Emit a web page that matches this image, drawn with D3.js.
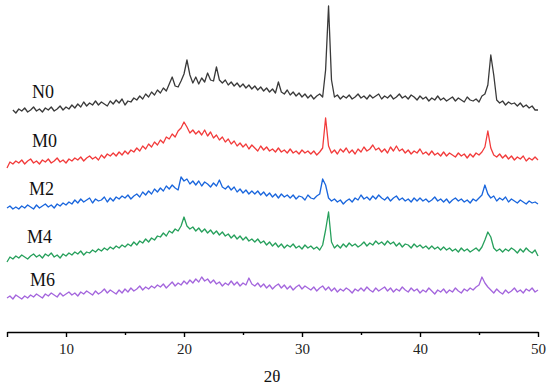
<!DOCTYPE html>
<html>
<head>
<meta charset="utf-8">
<script src="https://cdn.jsdelivr.net/npm/d3@7"></script>
<style>
  body { margin: 0; background: #fff; }
  svg text { font-family: "Liberation Serif", "Times New Roman", serif; }
</style>
</head>
<body>
<div id="chart"></div>
<script>
// sample names, top to bottom
const names = ['N0', 'M0', 'M2', 'M4', 'M6']
const colors = ['#3a3a3a', '#f23b3b', '#1a66dd', '#27a05c', '#a466dd']
// vertical stacking offset of each pattern (a.u.)
const offsets = [200, 150, 105, 55, 15]
// first 2θ of each scan, step 0.25°
const starts = [5.5, 5, 5, 5, 5]
const step = 0.25

// intensities (a.u.)
const n0 = [
  20, 17, 21, 19, 22, 18, 20, 23, 19, 21, 18, 22, 20, 23, 19, 21, 24, 20, 23, 21,
  25, 22, 26, 23, 28, 24, 27, 25, 29, 25, 28, 26, 24, 29, 26, 30, 27, 31, 25, 29,
  28, 32, 30, 34, 31, 36, 33, 38, 35, 40, 37, 42, 39, 46, 53, 44, 43, 49, 56, 70,
  55, 47, 53, 46, 52, 48, 57, 50, 49, 63, 50, 47, 50, 45, 48, 44, 47, 43, 46, 42,
  45, 41, 44, 40, 43, 39, 42, 38, 41, 37, 48, 38, 36, 40, 35, 38, 34, 37, 33, 36,
  32, 35, 31, 34, 36, 33, 60, 124, 50, 33, 35, 31, 34, 32, 35, 31, 33, 36, 32, 34,
  31, 35, 32, 34, 36, 31, 34, 32, 35, 31, 33, 36, 32, 34, 31, 35, 33, 30, 34, 31,
  33, 29, 32, 30, 34, 30, 32, 29, 31, 33, 29, 32, 30, 28, 33, 30, 29, 31, 28, 34,
  36, 45, 75, 55, 30, 27, 29, 25, 28, 26, 27, 24, 27, 23, 25, 22, 24, 20, 20
]
const m0 = [
  12, 18, 16, 19, 17, 20, 16, 19, 21, 17, 19, 16, 20, 18, 21, 17, 19, 22, 18, 20,
  17, 21, 19, 22, 20, 23, 19, 22, 24, 21, 23, 20, 25, 22, 26, 24, 27, 24, 28, 25,
  29, 26, 30, 28, 32, 29, 34, 31, 36, 33, 38, 35, 40, 37, 43, 41, 46, 43, 49, 52,
  58, 53, 47, 50, 46, 49, 45, 50, 44, 48, 42, 45, 40, 43, 38, 41, 36, 39, 34, 37,
  33, 36, 31, 35, 32, 29, 34, 30, 33, 29, 31, 28, 32, 28, 30, 27, 31, 27, 29, 26,
  30, 27, 29, 26, 29, 25, 28, 32, 62, 34, 27, 30, 26, 31, 28, 32, 27, 30, 26, 31,
  28, 33, 29, 31, 35, 30, 32, 28, 31, 27, 33, 29, 34, 29, 31, 27, 30, 26, 29, 27,
  31, 26, 28, 25, 29, 25, 27, 24, 28, 24, 27, 25, 23, 27, 24, 26, 22, 26, 23, 27,
  25, 28, 33, 49, 32, 25, 23, 26, 22, 25, 21, 24, 20, 23, 21, 24, 19, 22, 20, 23,
  20
]
const m2 = [
  17, 19, 16, 18, 16, 19, 17, 20, 18, 16, 20, 17, 19, 21, 18, 20, 17, 21, 19, 22,
  20, 23, 21, 25, 22, 26, 23, 25, 27, 22, 26, 24, 25, 28, 23, 27, 24, 28, 26, 29,
  27, 30, 26, 29, 31, 28, 33, 30, 34, 31, 36, 33, 37, 34, 39, 36, 40, 37, 35, 48,
  44, 46, 41, 44, 40, 44, 39, 43, 41, 38, 42, 39, 45, 38, 36, 39, 35, 38, 33, 36,
  32, 35, 31, 34, 31, 34, 30, 33, 29, 32, 28, 31, 27, 31, 28, 30, 27, 30, 26, 29,
  28, 25, 30, 27, 26, 29, 31, 46, 40, 27, 24, 26, 23, 25, 21, 24, 26, 23, 27, 25,
  30, 26, 28, 25, 29, 26, 30, 27, 25, 28, 24, 27, 29, 25, 27, 24, 26, 23, 27, 24,
  27, 24, 26, 23, 25, 28, 24, 26, 23, 26, 22, 25, 27, 24, 26, 23, 25, 22, 26, 24,
  27, 30, 40, 31, 27, 29, 24, 27, 25, 28, 23, 26, 24, 22, 25, 23, 21, 24, 22, 23,
  21
]
const m4 = [
  13, 18, 16, 19, 17, 20, 18, 16, 19, 21, 18, 20, 17, 21, 19, 22, 18, 20, 17, 21,
  19, 22, 20, 23, 21, 24, 20, 23, 22, 25, 23, 26, 24, 27, 25, 28, 26, 29, 27, 30,
  28, 31, 29, 33, 30, 34, 32, 36, 33, 37, 35, 39, 38, 42, 39, 44, 42, 46, 44, 49,
  58, 49, 46, 48, 44, 47, 43, 46, 42, 45, 41, 44, 40, 43, 39, 41, 37, 40, 36, 39,
  35, 38, 34, 36, 33, 36, 32, 34, 30, 33, 29, 32, 28, 31, 27, 30, 28, 31, 27, 29,
  26, 30, 27, 29, 26, 28, 25, 30, 45, 63, 33, 27, 30, 27, 31, 28, 32, 29, 31, 28,
  30, 33, 29, 32, 30, 34, 31, 33, 30, 34, 31, 33, 29, 32, 28, 31, 30, 27, 31, 28,
  30, 27, 29, 26, 29, 26, 28, 25, 28, 25, 27, 24, 26, 23, 27, 24, 26, 23, 25, 27,
  24, 28, 35, 43, 38, 27, 24, 26, 23, 26, 24, 27, 25, 22, 26, 23, 27, 24, 22, 25,
  19
]
const m6 = [
  17, 19, 16, 20, 18, 16, 19, 17, 20, 18, 21, 19, 17, 21, 19, 22, 20, 18, 22, 19,
  21, 23, 20, 22, 19, 23, 21, 24, 22, 20, 24, 21, 23, 26, 22, 25, 23, 21, 25, 22,
  26, 23, 27, 24, 26, 29, 25, 28, 26, 29, 27, 30, 28, 31, 27, 30, 33, 29, 32, 30,
  34, 31, 35, 32, 36, 33, 38, 34, 36, 32, 35, 31, 33, 29, 32, 30, 34, 30, 33, 29,
  32, 30, 37, 31, 29, 32, 28, 31, 27, 30, 26, 29, 31, 27, 30, 26, 29, 25, 28, 30,
  26, 29, 27, 25, 28, 24, 27, 29, 25, 28, 24, 27, 23, 26, 24, 27, 25, 22, 26, 24,
  27, 24, 28, 25, 23, 27, 24, 26, 28, 24, 27, 23, 26, 24, 28, 25, 23, 27, 24, 26,
  22, 25, 23, 27, 24, 21, 25, 23, 26, 22, 25, 23, 27, 24, 22, 26, 24, 27, 25, 28,
  30, 38, 32, 28, 25, 22, 26, 23, 21, 25, 22, 24, 27, 23, 25, 22, 26, 24, 27, 23,
  25
]
const series = [n0, m0, m2, m4, m6]

// axis ticks
const majorTicks = [5, 10, 20, 30, 40, 50]
const minorTicks = [15, 25, 35, 45]
const xTitle = '2θ'

const width = 550, height = 386

const svg = d3.select('#chart').append('svg')
  .attr('width', width)
  .attr('height', height)

const x = d3.scaleLinear().domain([5, 50]).range([7, 538])
const y = d3.scaleLinear().domain([0, 330]).range([330, 0])

const plotLine = d3.line()
  .x(d => x(d.t))
  .y(d => y(d.v))

series.forEach((vals, k) => {
  const data = vals.map((v, i) => ({ t: starts[k] + i * step, v: v + offsets[k] }))
  svg.append('path')
    .datum(data)
    .attr('d', plotLine)
    .attr('fill', 'none')
    .attr('stroke', colors[k])
    .attr('stroke-width', 1.3)
    .attr('stroke-linejoin', 'round')
})

// sample labels
const labelPos = [[32, 98], [32, 147], [29, 195], [27, 243], [30, 286]]
names.forEach((n, k) => {
  svg.append('text')
    .attr('x', labelPos[k][0])
    .attr('y', labelPos[k][1])
    .attr('font-size', 18)
    .attr('fill', '#111')
    .text(n)
})

// x axis
const axisY = 332
svg.append('g')
  .attr('transform', `translate(0,${axisY})`)
  .call(d3.axisBottom(x).tickValues(minorTicks).tickSize(3).tickSizeOuter(0).tickFormat(''))
  .call(g => g.select('.domain').remove())
  .call(g => g.selectAll('line').attr('stroke-width', 1.4))

const xAxis = svg.append('g')
  .attr('transform', `translate(0,${axisY})`)
  .attr('font-family', '"Liberation Serif", serif')
  .call(d3.axisBottom(x).tickValues(majorTicks).tickSize(5).tickSizeOuter(0)
    .tickPadding(6)
    .tickFormat(d => d === 5 ? '' : d))
xAxis.attr('font-family', '"Liberation Serif", serif')
xAxis.select('.domain').attr('stroke-width', 1.6)
xAxis.selectAll('line').attr('stroke-width', 1.4)
xAxis.selectAll('text')
  .attr('font-size', 15)
  .attr('fill', '#222')

svg.append('text')
  .attr('x', 272)
  .attr('y', 382)
  .attr('text-anchor', 'middle')
  .attr('font-size', 17)
  .attr('fill', '#111')
  .text(xTitle)
</script>
</body>
</html>
